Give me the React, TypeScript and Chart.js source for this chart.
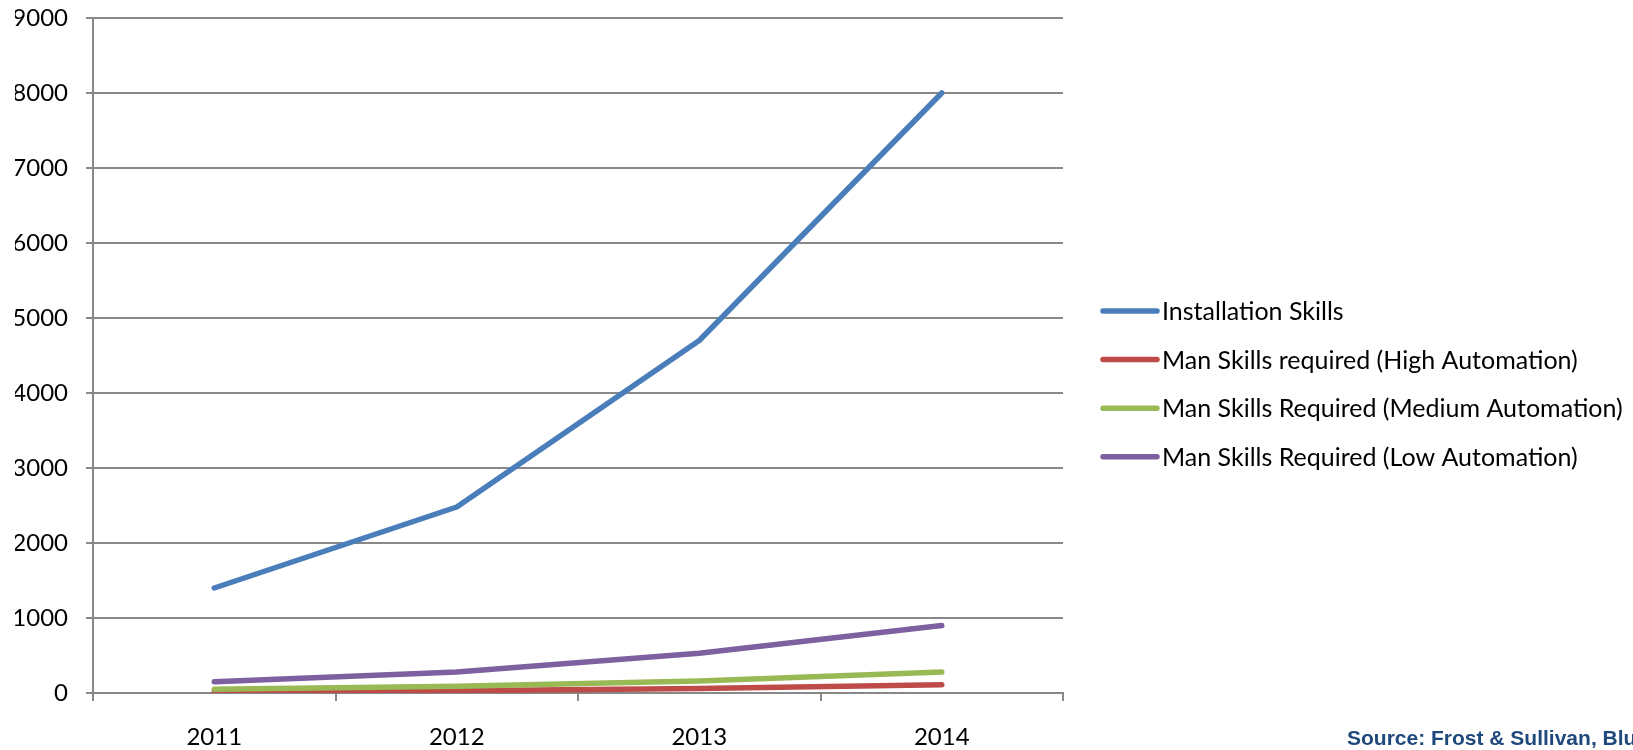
import React, { useEffect, useRef } from "react";
import { Chart, registerables } from "chart.js";

Chart.register(...registerables);

const years = ["2011", "2012", "2013", "2014"];
const installationSkills = [1400, 2480, 4700, 8000];
const highAutomation = [10, 30, 60, 110];
const mediumAutomation = [50, 90, 160, 280];
const lowAutomation = [150, 280, 530, 900];
const seriesNames = [
  "Installation Skills",
  "Man Skills required (High Automation)",
  "Man Skills Required (Medium Automation)",
  "Man Skills Required (Low Automation)",
];
const seriesColors = ["#4A7EBB", "#BE4B48", "#98B954", "#7D60A0"];
const yTicks = [0, 1000, 2000, 3000, 4000, 5000, 6000, 7000, 8000, 9000];
const sourceText = "Source: Frost & Sullivan, Blue Weave Consulting";

const FONT = "Lato, 'Open Sans', sans-serif";

const legendPlugin = {
  id: "customLegend",
  afterDraw(chart: any) {
    const { ctx, chartArea } = chart;
    const x0 = chartArea.right + 40;
    const lineW = 54;
    const startY = chartArea.top + 293;
    ctx.save();
    chart.data.datasets.forEach((ds: any, i: number) => {
      const y = startY + i * 48.6;
      ctx.strokeStyle = ds.borderColor;
      ctx.lineWidth = 5.5;
      ctx.lineCap = "round";
      ctx.beginPath();
      ctx.moveTo(x0, y);
      ctx.lineTo(x0 + lineW, y);
      ctx.stroke();
      ctx.fillStyle = "#000";
      ctx.font = `25px ${FONT}`;
      ctx.textBaseline = "middle";
      ctx.textAlign = "left";
      ctx.fillText(ds.label, x0 + lineW + 5, y + 1);
    });
    ctx.restore();
  },
};

const sourcePlugin = {
  id: "sourceText",
  afterDraw(chart: any) {
    const { ctx } = chart;
    ctx.save();
    ctx.fillStyle = "#1F497D";
    ctx.font = "bold 21px 'Liberation Sans', Arial, sans-serif";
    ctx.textBaseline = "alphabetic";
    ctx.textAlign = "left";
    ctx.fillText(sourceText, chart.width - 286, chart.height - 5);
    ctx.restore();
  },
};

export default function App() {
  const canvasRef = useRef<HTMLCanvasElement | null>(null);

  useEffect(() => {
    if (!canvasRef.current) return;
    const series = [installationSkills, highAutomation, mediumAutomation, lowAutomation];
    const chart = new Chart(canvasRef.current, {
      type: "line",
      data: {
        labels: years,
        datasets: series.map((d, i) => ({
          label: seriesNames[i],
          data: d,
          borderColor: seriesColors[i],
          backgroundColor: seriesColors[i],
          borderWidth: 5.5,
          pointRadius: 0,
          tension: 0,
          borderCapStyle: "round" as const,
          borderJoinStyle: "round" as const,
          order: -i,
        })),
      },
      options: {
        animation: false,
        responsive: true,
        maintainAspectRatio: false,
        layout: { padding: { left: 15, top: 18, right: 570, bottom: 0 } },
        plugins: {
          legend: { display: false },
          tooltip: { enabled: false },
          title: { display: false },
        },
        scales: {
          x: {
            offset: true,
            grid: {
              display: true,
              offset: true,
              drawOnChartArea: false,
              drawTicks: true,
              tickLength: 8,
              color: "#888888",
              lineWidth: 2,
            },
            border: { display: true, color: "#888888", width: 2 },
            ticks: {
              color: "#000",
              font: { family: FONT, size: 24 },
              padding: 22,
              maxRotation: 0,
            },
            afterFit(scale: any) {
              scale.height = 57;
            },
          },
          y: {
            min: 0,
            max: 9000,
            afterBuildTicks(scale: any) {
              scale.ticks = yTicks.map((v) => ({ value: v }));
            },
            grid: {
              color: "#888888",
              lineWidth: 2,
              tickLength: 7,
              drawTicks: true,
            },
            border: { display: true, color: "#888888", width: 2 },
            ticks: {
              color: "#000",
              font: { family: FONT, size: 24 },
              padding: 18,
              callback: (v: any) => String(v),
            },
            afterFit(scale: any) {
              scale.width = 78;
              scale.paddingTop = 0;
              scale.paddingBottom = 0;
            },
          },
        },
      },
      plugins: [legendPlugin, sourcePlugin],
    });
    return () => chart.destroy();
  }, []);

  return (
    <div style={{ position: "fixed", left: 0, top: 0, width: 1633, height: 750, background: "#fff" }}>
      <canvas ref={canvasRef} />
    </div>
  );
}
